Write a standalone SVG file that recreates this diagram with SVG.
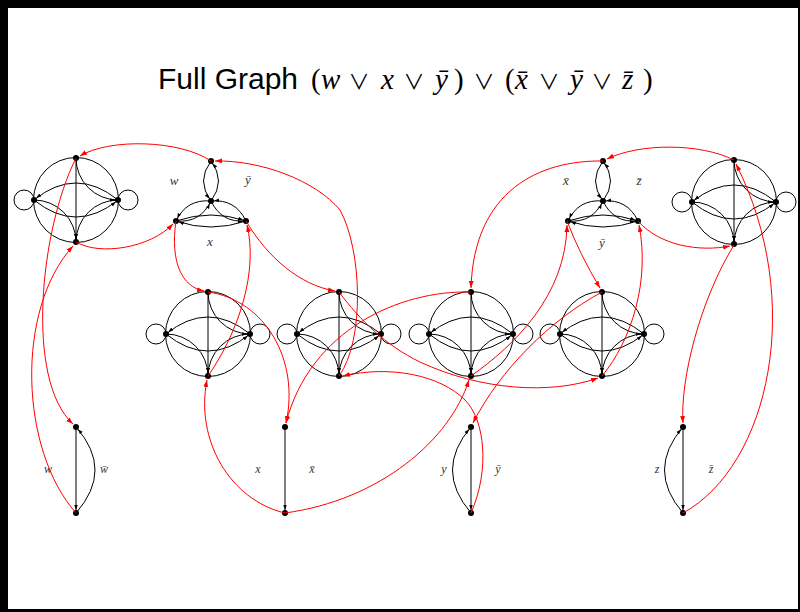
<svg xmlns="http://www.w3.org/2000/svg" xmlns:xlink="http://www.w3.org/1999/xlink" width="800" height="612" viewBox="0 0 800 612">
<style>
.bk{fill:none;stroke:#000;stroke-width:1}
.ae{marker-end:url(#ab)}
.rd{fill:none;stroke:#f00;stroke-width:1;marker-end:url(#ar)}
.nd{fill:#000}
.lbl{font-family:"Liberation Serif",serif;font-style:italic;font-size:13px;fill:#333;text-anchor:middle}
.vl{font-size:12px}
.ms{font-family:"Liberation Serif","DejaVu Serif",serif}
.mi{font-family:"Liberation Serif","DejaVu Serif",serif;font-style:italic}
.op{font-family:"Noto Sans CJK JP","DejaVu Sans",sans-serif;font-size:21px;text-anchor:middle}
</style>
<defs>
<marker id="ab" viewBox="0 0 10 10" refX="16" refY="5" markerWidth="5" markerHeight="5" orient="auto" markerUnits="userSpaceOnUse"><path d="M0,1.5 L10,5 L0,8.5z" fill="#000"/></marker>
<marker id="ar" viewBox="0 0 10 10" refX="10" refY="5" markerWidth="7" markerHeight="7" orient="auto" markerUnits="userSpaceOnUse"><path d="M0,1.5 L10,5 L0,8.5z" fill="#f00"/></marker>
<g id="xor">
<circle r="42.5" class="bk"/>
<circle cx="-52" r="10" class="bk"/>
<circle cx="52" r="10" class="bk"/>
<path class="bk ae" d="M0,-42 L0,42"/>
<path class="bk ae" d="M0,-42 A42,42 0 0 0 42,0"/>
<path class="bk ae" d="M-42,0 A42,42 0 0 1 0,42"/>
<path class="bk ae" d="M42,0 A42,42 0 0 0 0,42"/>
<path class="bk ae" d="M42,0 Q0,-34 -42,0"/>
<path class="bk ae" d="M-42,0 Q0,34 42,0"/>
<circle class="nd" cx="0" cy="-42" r="3"/>
<circle class="nd" cx="0" cy="42" r="3"/>
<circle class="nd" cx="-42" cy="0" r="3"/>
<circle class="nd" cx="42" cy="0" r="3"/>
</g>
<g id="clause">
<path class="bk ae" d="M0,-40 Q-15,-20 0,0"/>
<path class="bk ae" d="M0,0 Q15,-20 0,-40"/>
<path class="bk ae" d="M0,0 Q-24.4,-2.2 -35,20"/>
<path class="bk ae" d="M-35,20 Q-10.6,22.2 0,0"/>
<path class="bk ae" d="M35,20 Q24.4,-2.2 0,0"/>
<path class="bk ae" d="M0,0 Q10.6,22.2 35,20"/>
<path class="bk ae" d="M-35,20 Q0,8 35,20"/>
<path class="bk ae" d="M35,20 Q0,32 -35,20"/>
<circle class="nd" cx="0" cy="-40" r="3"/>
<circle class="nd" cx="0" cy="0" r="3"/>
<circle class="nd" cx="-35" cy="20" r="3"/>
<circle class="nd" cx="35" cy="20" r="3"/>
</g>
</defs>
<rect width="800" height="612" fill="#000"/>
<rect x="8" y="8" width="790" height="601" fill="#fff"/>
<text id="title" y="89" font-size="29" fill="#000"><tspan x="158" font-family="Liberation Sans, sans-serif" font-size="30">Full Graph</tspan><tspan x="311" class="ms">(</tspan><tspan x="321" class="mi">w</tspan><tspan x="359" class="op">∨</tspan><tspan x="381" class="mi">x</tspan><tspan x="414" class="op">∨</tspan><tspan x="435" class="mi">y&#x304;</tspan><tspan x="454" class="ms">)</tspan><tspan x="484" class="op">∨</tspan><tspan x="505" class="ms">(</tspan><tspan x="515" class="mi">x&#x304;</tspan><tspan x="549" class="op">∨</tspan><tspan x="570" class="mi">y&#x304;</tspan><tspan x="602" class="op">∨</tspan><tspan x="622" class="mi">z&#x304;</tspan><tspan x="643" class="ms">)</tspan></text>

<g id="g1-w"><use xlink:href="#xor" x="76" y="200"/></g>
<g id="g2-x"><use xlink:href="#xor" x="208" y="334"/></g>
<g id="g3-ny"><use xlink:href="#xor" x="339" y="334"/></g>
<g id="g4-nx"><use xlink:href="#xor" x="471" y="334"/></g>
<g id="g5-ny"><use xlink:href="#xor" x="602" y="334"/></g>
<g id="g6-nz"><use xlink:href="#xor" x="734" y="202"/></g>

<g id="clause1"><use xlink:href="#clause" x="211" y="201"/>
<text class="lbl" x="174" y="185">w</text><text class="lbl" x="248" y="184">y&#x304;</text><text class="lbl" x="210" y="246">x</text></g>
<g id="clause2"><use xlink:href="#clause" x="603" y="201"/>
<text class="lbl" x="566" y="185">x&#x304;</text><text class="lbl" x="639" y="185">z&#x304;</text><text class="lbl" x="602" y="247">y&#x304;</text></g>

<g id="var-w">
<path class="bk ae" d="M76,427 L76,513"/>
<path class="bk ae" d="M76,513 Q114,470 76,427"/>
<circle class="nd" cx="76" cy="427" r="3"/><circle class="nd" cx="76" cy="513" r="3"/>
<text class="lbl vl" x="48" y="473">w</text><text class="lbl vl" x="104" y="473">w&#x304;</text></g>
<g id="var-x">
<path class="bk ae" d="M285,427 L285,513"/>
<circle class="nd" cx="285" cy="427" r="3"/><circle class="nd" cx="285" cy="513" r="3"/>
<text class="lbl vl" x="258" y="473">x</text><text class="lbl vl" x="312" y="473">x&#x304;</text></g>
<g id="var-y">
<path class="bk ae" d="M471,427 L471,513"/>
<path class="bk ae" d="M471,513 Q434,470 471,427"/>
<circle class="nd" cx="471" cy="427" r="3"/><circle class="nd" cx="471" cy="513" r="3"/>
<text class="lbl vl" x="444" y="473">y</text><text class="lbl vl" x="498" y="473">y&#x304;</text></g>
<g id="var-z">
<path class="bk ae" d="M683,427 L683,513"/>
<path class="bk ae" d="M683,513 Q646,470 683,427"/>
<circle class="nd" cx="683" cy="427" r="3"/><circle class="nd" cx="683" cy="513" r="3"/>
<text class="lbl vl" x="657" y="473">z</text><text class="lbl vl" x="711" y="473">z&#x304;</text></g>

<g id="connectors">
<path class="rd" d="M211,161 C180,140 110,138 80,156"/>
<path class="rd" d="M339,376 C365,340 362,250 340,210 C315,180 260,160 215,161"/>
<path class="rd" d="M76,242 C100,256 150,248 173,224"/>
<path class="rd" d="M176,221 C170,262 182,287 204,291"/>
<path class="rd" d="M208,376 C240,330 258,270 247,225"/>
<path class="rd" d="M246,221 C268,258 300,285 335,291"/>
<path class="rd" d="M603,161 C540,160 474,190 471,288"/>
<path class="rd" d="M734,160 C700,143 640,143 607,159"/>
<path class="rd" d="M471,376 C515,345 566,295 567,225"/>
<path class="rd" d="M567,221 Q580,255 600,288"/>
<path class="rd" d="M602,376 C632,340 650,280 639,225"/>
<path class="rd" d="M638,221 C660,246 700,252 730,246"/>
<path class="rd" d="M683,513 C770,465 805,300 736,164"/>
<path class="rd" d="M734,245 C700,300 680,380 683,423"/>
<path class="rd" d="M76,158 C40,230 25,380 73,424"/>
<path class="rd" d="M76,513 C20,450 15,310 73,246"/>
<path class="rd" d="M285,513 C230,500 195,440 207,380"/>
<path class="rd" d="M208,292 C265,300 300,360 286,423"/>
<path class="rd" d="M471,292 C400,290 310,330 286,423"/>
<path class="rd" d="M285,513 C380,500 450,440 469,380"/>
<path class="rd" d="M471,513 C490,470 485,420 465,400 C440,375 390,365 343,376"/>
<path class="rd" d="M339,292 C360,320 385,345 420,362 C480,390 550,395 598,378"/>
<path class="rd" d="M602,292 C550,320 500,370 473,423"/>
</g>
</svg>
